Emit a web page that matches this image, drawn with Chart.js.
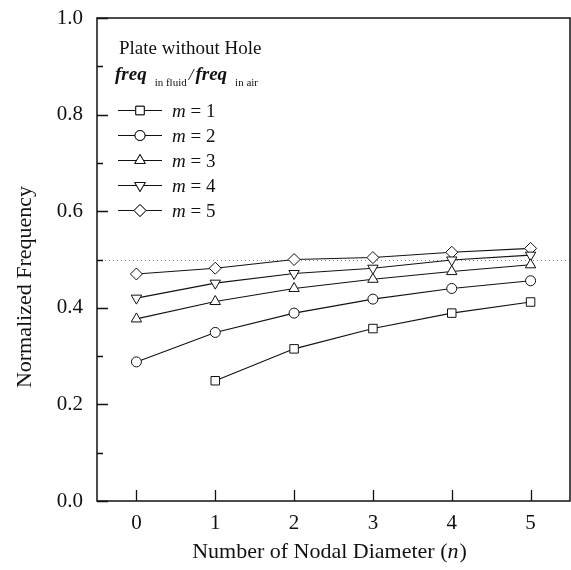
<!DOCTYPE html>
<html>
<head>
<meta charset="utf-8">
<script src="https://cdn.jsdelivr.net/npm/chart.js@4"></script>
<style>
  html,body{margin:0;padding:0;background:#fff;}
  #wrap{width:571px;height:570px;}
</style>
</head>
<body>
<div id="wrap"><canvas id="c" width="571" height="570"></canvas></div>
<script>
(function(){
  // data
  const N_VALUES = [0, 1, 2, 3, 4, 5];
  const M1 = [null, 0.249, 0.315, 0.357, 0.389, 0.412];
  const M2 = [0.288, 0.349, 0.389, 0.418, 0.440, 0.456];
  const M3 = [0.377, 0.413, 0.440, 0.459, 0.475, 0.489];
  const M4 = [0.420, 0.451, 0.471, 0.482, 0.499, 0.509];
  const M5 = [0.470, 0.482, 0.500, 0.504, 0.515, 0.523];
  const SERIES_LABELS = ['m = 1', 'm = 2', 'm = 3', 'm = 4', 'm = 5'];
  const Y_TICKS = [0, 0.2, 0.4, 0.6, 0.8, 1.0];
  const X_TICKS = [0, 1, 2, 3, 4, 5];
  const REF_LINE = 0.5;

  const SERIF = '"Liberation Serif", "DejaVu Serif", serif';
  const INK = '#111';

  const STYLES = [
    {pointStyle:'rect',     radius:6,   rotation:0},
    {pointStyle:'circle',   radius:5,   rotation:0},
    {pointStyle:'triangle', radius:6,   rotation:0},
    {pointStyle:'triangle', radius:6,   rotation:180},
    {pointStyle:'rectRot',  radius:6,   rotation:0}
  ];

  const pts = arr => N_VALUES.map((n,i)=>({x:n, y:arr[i]})).filter(p=>p.y!=null);

  const datasets = [M1, M2, M3, M4, M5].map((arr,i)=>({
    label: SERIES_LABELS[i],
    data: pts(arr),
    borderColor: INK,
    borderWidth: 1.1,
    backgroundColor: '#fff',
    pointBackgroundColor: '#fff',
    pointBorderColor: INK,
    pointBorderWidth: 1,
    pointStyle: STYLES[i].pointStyle,
    pointRadius: STYLES[i].radius,
    pointRotation: STYLES[i].rotation,
    tension: 0,
    fill: false,
    clip: 8
  }));

  // frame, inward ticks, dotted reference line
  const framePlugin = {
    id:'frame',
    beforeDatasetsDraw(chart){
      const {ctx, chartArea:a, scales:{y}} = chart;
      ctx.save();
      const ry = Math.round(y.getPixelForValue(REF_LINE)) + 0.5;
      ctx.strokeStyle = '#8a8a8a'; ctx.lineWidth = 1; ctx.setLineDash([1,3]);
      ctx.beginPath(); ctx.moveTo(a.left, ry); ctx.lineTo(a.right, ry); ctx.stroke();
      ctx.restore();
    },
    afterDatasetsDraw(chart){
      const {ctx, chartArea:a, scales:{x, y}} = chart;
      ctx.save();
      ctx.strokeStyle = INK; ctx.lineWidth = 1.5; ctx.setLineDash([]);
      ctx.strokeRect(a.left, a.top, a.right - a.left, a.bottom - a.top);
      ctx.lineWidth = 1.3;
      ctx.beginPath();
      Y_TICKS.forEach((v,i)=>{
        const py = Math.round(y.getPixelForValue(v)) + 0.5;
        ctx.moveTo(a.left, py); ctx.lineTo(a.left + 11, py);
        if(i < Y_TICKS.length-1){
          const my = Math.round(y.getPixelForValue((v + Y_TICKS[i+1]) / 2)) + 0.5;
          ctx.moveTo(a.left, my); ctx.lineTo(a.left + 6, my);
        }
      });
      X_TICKS.forEach(v=>{
        const px = Math.round(x.getPixelForValue(v)) + 0.5;
        ctx.moveTo(px, a.bottom); ctx.lineTo(px, a.bottom - 11);
      });
      ctx.stroke();
      ctx.restore();
    }
  };

  // axis titles and the in-plot legend
  const textPlugin = {
    id:'texts',
    afterDraw(chart){
      const {ctx} = chart;
      ctx.save();
      ctx.fillStyle = INK;

      // y title
      ctx.save();
      ctx.translate(25, 287);
      ctx.rotate(-Math.PI/2);
      ctx.font = `22px ${SERIF}`;
      ctx.textAlign = 'center'; ctx.textBaseline = 'middle';
      ctx.fillText('Normalized Frequency', 0, 0);
      ctx.restore();

      // x title
      ctx.textBaseline = 'middle';
      const t1 = 'Number of Nodal Diameter (', t2 = 'n', t3 = ')';
      ctx.font = `22px ${SERIF}`; const w1 = ctx.measureText(t1).width, w3 = ctx.measureText(t3).width;
      ctx.font = `italic 22px ${SERIF}`; const w2 = ctx.measureText(t2).width;
      let xx = 329 - (w1 + w2 + w3) / 2;
      ctx.textAlign = 'left';
      ctx.font = `22px ${SERIF}`; ctx.fillText(t1, xx, 552); xx += w1;
      ctx.font = `italic 22px ${SERIF}`; ctx.fillText(t2, xx, 552); xx += w2 + 1;
      ctx.font = `22px ${SERIF}`; ctx.fillText(t3, xx, 552);

      // legend header
      ctx.textBaseline = 'alphabetic';
      ctx.font = `19px ${SERIF}`;
      ctx.fillText('Plate without Hole', 119, 54);

      let fx = 115;
      const big = `italic bold 19px ${SERIF}`, sub = `11px ${SERIF}`;
      ctx.font = big; ctx.fillText('freq', fx, 80); fx += ctx.measureText('freq').width + 8;
      ctx.font = sub; ctx.fillText('in fluid', fx, 86); fx += ctx.measureText('in fluid').width + 2;
      ctx.font = `italic 17px ${SERIF}`; ctx.fillText('/', fx, 80); fx += ctx.measureText('/').width + 2;
      ctx.font = big; ctx.fillText('freq', fx, 80); fx += ctx.measureText('freq').width + 8;
      ctx.font = sub; ctx.fillText('in air', fx, 86);

      // legend entries
      chart.data.datasets.forEach((ds,i)=>{
        const ly = 110 + i*25;
        ctx.strokeStyle = INK; ctx.lineWidth = 1;
        ctx.beginPath(); ctx.moveTo(118, ly + 0.5); ctx.lineTo(162, ly + 0.5); ctx.stroke();
        ctx.fillStyle = '#fff';
        Chart.helpers.drawPoint(ctx, {pointStyle: ds.pointStyle, radius: ds.pointRadius, rotation: ds.pointRotation, borderWidth: 1}, 140, ly + 0.5);
        ctx.fill(); ctx.stroke();
        ctx.fillStyle = INK;
        ctx.textBaseline = 'middle';
        const parts = ds.label.split(' ');
        ctx.font = `italic 19px ${SERIF}`; ctx.fillText(parts[0], 172, ly + 2);
        const mw = ctx.measureText(parts[0]).width;
        ctx.font = `19px ${SERIF}`; ctx.fillText(' ' + parts.slice(1).join(' '), 172 + mw, ly + 2);
      });
      ctx.restore();
    }
  };

  new Chart(document.getElementById('c'), {
    type:'line',
    data:{datasets},
    options:{
      responsive:false,
      animation:false,
      layout:{autoPadding:false, padding:{top:18, right:1, left:0, bottom:0}},
      plugins:{legend:{display:false}, tooltip:{enabled:false}},
      scales:{
        x:{
          type:'linear', min:-0.5, max:5.5,
          afterBuildTicks: s => { s.ticks = X_TICKS.map(v=>({value:v})); },
          afterFit: s => { s.height = 69; s.paddingLeft = 0; s.paddingRight = 0; },
          grid:{display:false, drawTicks:false, tickLength:0}, border:{display:false},
          ticks:{color:INK, font:{family:SERIF, size:21}, padding:10, maxRotation:0, callback:v=>String(v)}
        },
        y:{
          min:0, max:1,
          afterBuildTicks: s => { s.ticks = Y_TICKS.map(v=>({value:v})); },
          afterFit: s => { s.width = 97; s.paddingTop = 0; s.paddingBottom = 0; },
          grid:{display:false, drawTicks:false, tickLength:0}, border:{display:false},
          ticks:{color:INK, font:{family:SERIF, size:21}, padding:14, callback:v=>Number(v).toFixed(1)}
        }
      }
    },
    plugins:[framePlugin, textPlugin]
  });
})();
</script>
</body>
</html>
